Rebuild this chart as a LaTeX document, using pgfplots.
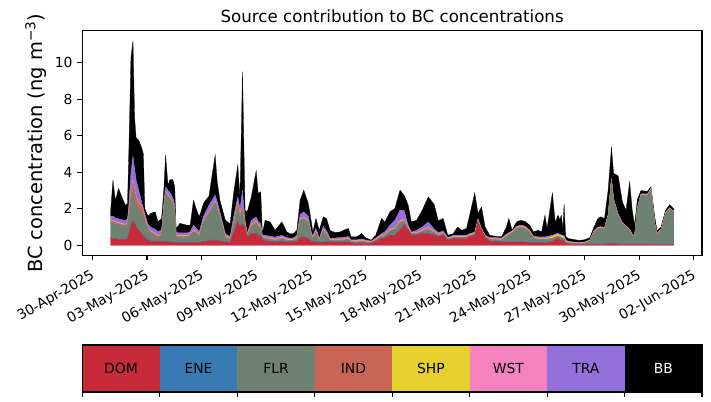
\documentclass[border=0pt]{standalone}
\usepackage{fontspec}
\setmainfont{DejaVu Sans}
\usepackage{pgfplots}
\usepackage{pgfplotstable}
\pgfplotsset{compat=1.18}
\definecolor{cDOM}{RGB}{199,43,58}
\definecolor{cENE}{RGB}{56,122,180}
\definecolor{cFLR}{RGB}{111,129,113}
\definecolor{cIND}{RGB}{200,101,86}
\definecolor{cSHP}{RGB}{230,208,45}
\definecolor{cWST}{RGB}{243,130,190}
\definecolor{cTRA}{RGB}{148,113,218}
\definecolor{cBB}{RGB}{0,0,0}
\pgfplotstableread{
t DOM ENE FLR IND SHP WST TRA BB
1.00 .38 .03 .88 .06 .02 .03 .20 .20
1.13 .36 .03 .85 .06 .02 .03 .25 1.97
1.26 .35 .03 .81 .06 .02 .03 .20 .97
1.44 .33 .03 .78 .06 .02 .03 .20 1.66
1.62 .32 .03 .74 .06 .02 .03 .20 1.25
1.81 .30 .03 .71 .06 .02 .03 .20 .85
1.93 .35 .03 .76 .06 .02 .03 .20 .84
2.00 .60 .03 .87 .30 .02 .03 .35 2.80
2.12 1.10 .03 1.37 .40 .02 .03 1.05 6.30
2.23 1.35 .03 1.72 .40 .02 .03 1.35 6.30
2.32 1.20 .03 1.37 .40 .02 .03 1.15 2.80
2.40 1.00 .03 1.22 .40 .02 .03 .90 2.30
2.55 .80 .03 1.07 .40 .02 .03 .65 2.75
2.72 .60 .03 1.17 .30 .02 .03 .15 3.00
2.80 .50 .03 1.02 .25 .02 .03 .20 2.95
2.88 .40 .03 .92 .15 .02 .03 .15 .30
3.05 .25 .03 .56 .06 .02 .03 .20 .45
3.20 .22 .03 .44 .06 .02 .03 .20 .75
3.45 .20 .03 .31 .06 .02 .03 .23 .95
3.60 .20 .03 .21 .06 .02 .03 .20 .53
3.80 .20 .03 .31 .06 .02 .03 .20 .62
3.92 .20 .03 1.71 .06 .02 .03 .25 .70
4.02 .20 .03 2.61 .06 .02 .03 .25 1.74
4.15 .18 .03 2.43 .06 .02 .03 .25 .30
4.26 .18 .03 2.33 .06 .02 .03 .25 .70
4.42 .17 .03 2.04 .06 .02 .03 .25 1.00
4.52 .15 .03 1.66 .06 .02 .03 .25 1.00
4.60 .12 .03 .29 .06 .02 .03 .15 .20
4.80 .15 .03 .26 .06 .02 .03 .13 .52
5.00 .15 .03 .26 .06 .02 .03 .13 .47
5.20 .15 .03 .26 .06 .02 .03 .13 .42
5.37 .15 .03 .31 .06 .02 .03 .15 .35
5.55 .15 .03 .56 .06 .02 .03 .25 1.37
5.70 .15 .03 .46 .06 .02 .03 .20 1.05
5.87 .15 .03 .31 .06 .02 .03 .15 .81
6.10 .20 .03 1.01 .06 .02 .03 .25 .70
6.40 .25 .03 1.46 .06 .02 .03 .35 .50
6.74 .27 .03 2.02 .06 .02 .03 .32 2.20
6.85 .25 .03 1.76 .06 .02 .03 .25 1.10
7.00 .22 .03 1.29 .06 .02 .03 .18 .64
7.30 .18 .03 .18 .06 .02 .03 .14 .73
7.56 .15 .03 .12 .06 .02 .03 .07 .70
7.75 .64 .03 .42 .10 .02 .03 .32 1.28
7.98 1.30 .03 .76 .20 .02 .03 .31 1.75
8.10 1.00 .03 .52 .15 .02 .03 .25 .65
8.24 1.19 .03 .68 .20 .02 .03 .85 6.52
8.38 .90 .03 .17 .10 .02 .03 .12 .55
8.50 .40 .03 .07 .05 .02 .03 .05 1.18
8.72 .64 .03 .33 .10 .02 .03 .22 1.28
8.99 .64 .03 .53 .10 .02 .03 .21 2.52
9.10 .55 .03 .44 .08 .02 .03 .15 1.54
9.24 .50 .03 .39 .08 .02 .03 .14 1.74
9.33 .30 .03 .08 .04 .02 .03 .05 .09
9.48 .25 .03 .08 .04 .02 .03 .10 .82
9.75 .20 .03 .08 .04 .02 .03 .10 .78
10.03 .18 .03 .05 .04 .02 .03 .10 .37
10.40 .20 .03 .13 .04 .02 .03 .10 .73
10.67 .18 .03 .05 .04 .02 .03 .07 .31
10.85 .18 .03 .03 .04 .02 .03 .07 .24
11.03 .18 .03 .03 .04 .02 .03 .07 .24
11.22 .20 .03 .13 .04 .02 .03 .10 .27
11.40 .40 .03 .91 .06 .02 .03 .25 .77
11.60 .46 .03 .95 .06 .02 .03 .28 1.19
11.85 .35 .03 .86 .06 .02 .03 .25 .69
12.03 .20 .03 .23 .04 .02 .03 .09 .55
12.10 .18 .03 .15 .04 .02 .03 .10 .18
12.27 .18 .03 .48 .04 .02 .03 .14 .55
12.45 .15 .03 .06 .04 .02 .03 .04 .45
12.67 .18 .03 .57 .04 .02 .03 .17 .52
12.85 .18 .03 .35 .04 .02 .03 .15 .67
13.04 .18 .03 .03 .04 .02 .03 .04 .45
13.30 .18 .03 .05 .04 .02 .03 .05 .30
13.60 .18 .03 .05 .04 .02 .03 .07 .31
13.85 .18 .03 .07 .04 .02 .03 .08 .40
14.05 .18 .03 .10 .04 .02 .03 .08 .44
14.20 .12 .03 .03 .04 .02 .03 .03 .16
14.50 .10 .03 .03 .04 .02 .03 .05 .16
14.78 .12 .03 .06 .04 .02 .03 .05 .29
14.97 .10 .03 .03 .04 .02 .03 .05 .12
15.30 .10 .02 .02 .03 .01 .02 .03 .05
15.55 .20 .03 .03 .04 .02 .03 .05 .15
15.87 .37 .03 .06 .04 .02 .03 .09 .83
16.05 .40 .03 .08 .04 .02 .03 .15 .53
16.33 .55 .03 .18 .06 .02 .03 .23 .73
16.60 .55 .03 .28 .06 .02 .03 .40 .65
16.88 .82 .03 .31 .12 .02 .03 .59 1.10
17.10 1.10 .03 .14 .10 .02 .03 .50 .83
17.33 .82 .03 .04 .06 .02 .03 .10 1.10
17.50 .55 .03 .04 .03 .02 .03 .03 .55
17.79 .55 .03 .03 .04 .02 .03 .12 .55
18.10 .64 .03 .08 .05 .02 .03 .15 .92
18.43 .64 .03 .19 .06 .02 .03 .31 1.37
18.75 .55 .03 .09 .05 .02 .03 .13 1.35
18.98 .45 .03 .03 .04 .02 .03 .10 .65
19.25 .55 .03 .07 .03 .02 .03 .05 .69
19.50 .25 .03 .05 .02 .02 .03 .02 .13
19.80 .35 .03 .04 .03 .02 .03 .05 .09
20.04 .37 .03 .02 .03 .02 .03 .05 .45
20.26 .37 .03 .02 .03 .02 .03 .05 .27
20.53 .37 .03 .02 .03 .02 .03 .05 .37
20.70 .46 .03 .03 .03 .02 .03 .04 1.01
20.98 .55 .03 .01 .03 .02 .03 .06 2.14
21.16 1.28 .03 .01 .03 .02 .03 .07 .27
21.35 .80 .03 .00 .02 .02 .03 .02 1.18
21.55 .46 .02 .00 .02 .02 .02 .01 .45
21.80 .20 .03 .06 .03 .02 .03 .05 .13
22.10 .20 .03 .06 .03 .02 .03 .05 .08
22.45 .18 .03 .06 .03 .02 .03 .05 .06
22.72 .18 .03 .25 .04 .02 .03 .07 .38
22.85 .18 .03 .35 .04 .02 .03 .05 .77
23.03 .18 .03 .45 .04 .02 .03 .03 .04
23.27 .18 .03 .70 .04 .02 .03 .05 .23
23.50 .18 .03 .75 .04 .02 .03 .05 .27
23.75 .18 .03 .70 .04 .02 .03 .05 .25
24.00 .15 .03 .51 .04 .02 .03 .04 .28
24.20 .15 .03 .20 .04 .02 .03 .03 .23
24.45 .15 .03 .13 .04 .02 .03 .06 .36
24.65 .15 .03 .13 .04 .02 .03 .06 .27
24.83 .15 .03 .13 .04 .02 .03 .06 1.19
24.95 .15 .03 .13 .04 .02 .03 .08 .44
25.24 .20 .03 .13 .04 .08 .03 .04 2.32
25.40 .30 .03 .08 .04 .08 .03 .06 .63
25.55 .37 .03 .08 .04 .08 .03 .03 .99
25.65 .30 .03 .08 .04 .08 .03 .04 .80
25.73 .28 .03 .08 .04 .08 .03 .04 1.07
25.82 .22 .03 .11 .04 .08 .03 .04 .35
25.88 .20 .03 .11 .04 .08 .03 .03 1.75
25.97 .08 .03 .06 .03 .03 .03 .04 .20
26.10 .05 .02 .06 .02 .01 .03 .03 .15
26.40 .04 .02 .04 .02 .01 .03 .02 .14
26.70 .04 .02 .02 .02 .01 .03 .02 .11
27.00 .04 .02 .04 .02 .01 .03 .02 .12
27.30 .04 .02 .17 .02 .01 .03 .01 .12
27.50 .05 .02 .61 .02 .01 .03 .04 .17
27.74 .05 .02 .83 .02 .01 .03 .04 .47
27.90 .05 .02 .86 .02 .01 .03 .03 .54
28.10 .05 .02 .81 .02 .01 .03 .04 .49
28.30 .08 .02 1.48 .02 .01 .03 .06 1.32
28.48 .10 .02 3.46 .02 .01 .03 .06 1.70
28.60 .08 .02 2.35 .02 .01 .03 .04 1.39
28.85 .06 .02 1.55 .02 .01 .03 .03 2.08
29.08 .05 .02 1.10 .02 .01 .03 .03 1.12
29.28 .05 .02 .91 .02 .01 .03 .03 .85
29.48 .05 .02 .73 .02 .01 .03 .02 2.60
29.62 .05 .02 .46 .02 .01 .03 .03 1.30
29.75 .05 .02 .37 .02 .01 .03 .02 .58
29.90 .05 .02 1.91 .02 .01 .03 .03 .43
30.10 .05 .02 2.66 .02 .01 .03 .03 .18
30.45 .05 .02 2.66 .02 .01 .03 .03 .13
30.65 .05 .02 2.96 .02 .01 .03 .03 .08
30.85 .04 .02 1.11 .02 .01 .03 .03 .34
30.98 .04 .02 .52 .02 .01 .03 .02 .14
31.20 .04 .02 .74 .02 .01 .03 .02 .12
31.45 .04 .02 1.66 .02 .01 .03 .02 .12
31.67 .04 .02 1.92 .02 .01 .03 .02 .16
31.90 .04 .02 1.75 .02 .01 .03 .01 .12
}\bcdata

\begin{document}
\begin{tikzpicture}
\path[use as bounding box] (0,0) rectangle (511.92pt,289.44pt);
\begin{axis}[
  at={(59.26pt,105.48pt)}, anchor=south west,
  scale only axis, width=446.2pt, height=161.86pt,
  xmin=-0.55, xmax=33.45, ymin=-0.56, ymax=11.76,
  stack plots=y,
  xtick={0,3,...,33},
  xticklabels={30-Apr-2025,03-May-2025,06-May-2025,09-May-2025,12-May-2025,15-May-2025,18-May-2025,21-May-2025,24-May-2025,27-May-2025,30-May-2025,02-Jun-2025},
  ytick={0,2,...,10},
  tick align=outside, major tick length=3.5pt,
  xtick pos=left, ytick pos=left,
  axis line style={line width=0.8pt},
  every tick/.style={black, line width=0.8pt},
  tick label style={font=\fontsize{10}{12}\selectfont},
  /pgf/number format/assume math mode=true,
  xticklabel style={font=\fontsize{10}{12}\selectfont, inner sep=0pt, xshift=-1.7pt, yshift=-6pt, rotate=30, anchor=north east},
  title={Source contribution to BC concentrations},
  title style={font=\fontsize{12}{14}\selectfont, at={(0.5,1)}, anchor=base, yshift=0pt},
  ylabel={BC concentration (ng m\textsuperscript{−3})},
  every axis y label/.style={font=\fontsize{14}{17}\selectfont, at={(axis description cs:-0.0749,0.5)}, rotate=90, anchor=center},
]
\addplot[fill=cDOM, draw=cDOM, line width=0.2pt] table[x=t,y=DOM]{\bcdata} \closedcycle;
\addplot[fill=cENE, draw=cENE, line width=0.2pt] table[x=t,y=ENE]{\bcdata} \closedcycle;
\addplot[fill=cFLR, draw=cFLR, line width=0.2pt] table[x=t,y=FLR]{\bcdata} \closedcycle;
\addplot[fill=cIND, draw=cIND, line width=0.2pt] table[x=t,y=IND]{\bcdata} \closedcycle;
\addplot[fill=cSHP, draw=cSHP, line width=0.2pt] table[x=t,y=SHP]{\bcdata} \closedcycle;
\addplot[fill=cWST, draw=cWST, line width=0.2pt] table[x=t,y=WST]{\bcdata} \closedcycle;
\addplot[fill=cTRA, draw=cTRA, line width=0.2pt] table[x=t,y=TRA]{\bcdata} \closedcycle;
\addplot[fill=cBB, draw=cBB, line width=0.2pt] table[x=t,y=BB]{\bcdata} \closedcycle;
\end{axis}
\begin{axis}[
  at={(59.26pt,7.2pt)}, anchor=south west,
  scale only axis, width=446.2pt, height=33.84pt,
  xmin=0, xmax=8, ymin=0, ymax=1,
  xtick={0,1,...,8}, xticklabels={,,,,,,,,}, ytick=\empty,
  tick align=outside, major tick length=3.5pt,
  xtick pos=left,
  axis line style={line width=0.8pt},
  every tick/.style={black, line width=0.8pt},
  axis on top,
  nodes={font=\fontsize{10}{12}\selectfont},
]
\addplot[fill=cDOM, draw=none] coordinates {(0,1) (1,1)} \closedcycle;
\addplot[fill=cENE, draw=none] coordinates {(1,1) (2,1)} \closedcycle;
\addplot[fill=cFLR, draw=none] coordinates {(2,1) (3,1)} \closedcycle;
\addplot[fill=cIND, draw=none] coordinates {(3,1) (4,1)} \closedcycle;
\addplot[fill=cSHP, draw=none] coordinates {(4,1) (5,1)} \closedcycle;
\addplot[fill=cWST, draw=none] coordinates {(5,1) (6,1)} \closedcycle;
\addplot[fill=cTRA, draw=none] coordinates {(6,1) (7,1)} \closedcycle;
\addplot[fill=cBB, draw=none] coordinates {(7,1) (8,1)} \closedcycle;
\node at (axis cs:0.5,0.5) {DOM};
\node at (axis cs:1.5,0.5) {ENE};
\node at (axis cs:2.5,0.5) {FLR};
\node at (axis cs:3.5,0.5) {IND};
\node at (axis cs:4.5,0.5) {SHP};
\node at (axis cs:5.5,0.5) {WST};
\node at (axis cs:6.5,0.5) {TRA};
\node[text=white] at (axis cs:7.5,0.5) {BB};
\end{axis}
\end{tikzpicture}
\end{document}
